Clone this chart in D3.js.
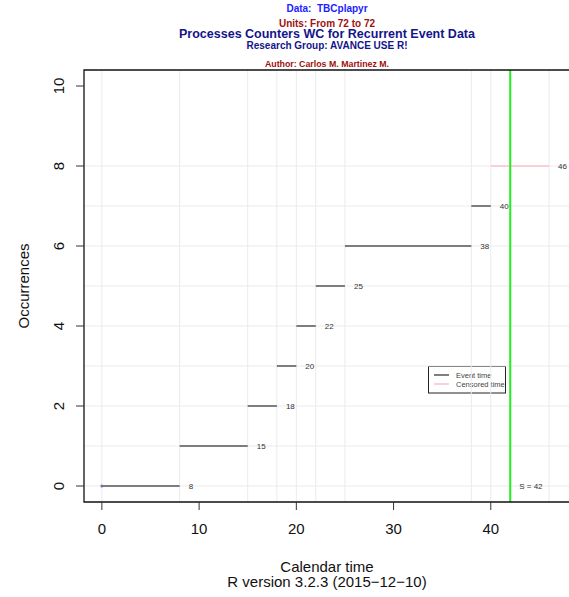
<!DOCTYPE html>
<html>
<head>
<meta charset="utf-8">
<script src="https://cdn.jsdelivr.net/npm/d3@7"></script>
<style>
  body { margin: 0; background: #fff; }
  svg { display: block; font-family: "Liberation Sans", Arial, Helvetica, sans-serif; }
  text { white-space: pre; }
</style>
</head>
<body>
<script>
// recurrent event process, one unit
var times = [0, 8, 15, 18, 20, 22, 25, 38, 40, 46];
var eventStatus = [1, 1, 1, 1, 1, 1, 1, 1, 0];   // 1 = event, 0 = censored
var stopTime = 42;
var xTicks = [0, 10, 20, 30, 40];
var yTicks = [0, 2, 4, 6, 8, 10];
var yGrid = [0, 1, 2, 3, 4, 5, 6, 7, 8];
var legendLabels = ["Event time", "Censored time"];
var titleLines = [
  { text: "Data:  TBCplapyr", y: 11.5, size: 10, color: "#2222ff" },
  { text: "Units: From 72 to 72", y: 27, size: 10, color: "#a01010" },
  { text: "Processes Counters WC for Recurrent Event Data", y: 38.3, size: 12.5, color: "#14148c" },
  { text: "Research Group: AVANCE USE R!", y: 48.5, size: 10, color: "#14148c" },
  { text: "Author: Carlos M. Martinez M.", y: 67, size: 8.8, color: "#a01010" }
];

var W = 569, H = 597;
var svg = d3.select("body").append("svg").attr("width", W).attr("height", H);

var x = d3.scaleLinear().domain([-1.84, 47.84]).range([84, 567]);
var y = d3.scaleLinear().domain([-0.4, 10.4]).range([502, 70]);

// legend (drawn first, grid goes over it like in the original)
var lg = svg.append("g");
lg.append("rect").attr("x", 428.5).attr("y", 366.5).attr("width", 77).attr("height", 26.5)
  .style("fill", "white").style("stroke", "#222").style("stroke-width", 1);
legendLabels.forEach(function(d, i){
  var ly = 375 + i*9;
  lg.append("line").attr("x1", 434).attr("x2", 449).attr("y1", ly).attr("y2", ly)
    .style("stroke", i == 0 ? "#555" : "pink").style("stroke-width", 1.5);
  lg.append("text").attr("x", 456).attr("y", ly).attr("dy", "0.35em")
    .style("font-size", "7.5px").style("fill", "#444").text(d);
});

// grid
var grid = svg.append("g");
times.forEach(function(t){
  grid.append("line").attr("x1", x(t)).attr("x2", x(t)).attr("y1", y.range()[1]).attr("y2", y.range()[0])
    .style("stroke", "#ebebeb").style("stroke-width", 1);
});
yGrid.forEach(function(v){
  grid.append("line").attr("x1", 84).attr("x2", W).attr("y1", y(v)).attr("y2", y(v))
    .style("stroke", "#ebebeb").style("stroke-width", 1);
});

// segments
var segs = d3.range(eventStatus.length).map(function(i){
  return { x0: times[i], x1: times[i+1], k: i, s: eventStatus[i] };
});
svg.append("g").selectAll("line").data(segs).join("line")
  .attr("x1", function(d){ return x(d.x0); }).attr("x2", function(d){ return x(d.x1); })
  .attr("y1", function(d){ return y(d.k); }).attr("y2", function(d){ return y(d.k); })
  .style("stroke", function(d){ return d.s == 1 ? "#555" : "pink"; })
  .style("stroke-width", 1.5);
svg.append("g").selectAll("text").data(segs).join("text")
  .attr("x", function(d){ return x(d.x1) + 9; }).attr("y", function(d){ return y(d.k); })
  .attr("dy", "0.35em").style("font-size", "8px").style("fill", "#333")
  .text(function(d){ return d.x1; });

// start point
svg.append("circle").attr("cx", x(times[0])).attr("cy", y(0)).attr("r", 1.5).style("fill", "#7070b0");

// end of observation
svg.append("line").attr("x1", x(stopTime)).attr("x2", x(stopTime)).attr("y1", 70).attr("y2", 502)
  .style("stroke", "#22ee22").style("stroke-width", 2);
svg.append("text").attr("x", x(stopTime) + 9).attr("y", y(0)).attr("dy", "0.35em")
  .style("font-size", "8px").style("fill", "#333").text("S = " + stopTime);

// box (right side runs past the picture)
svg.append("path").attr("d", "M" + (W+2) + ",70 H84 V502 H" + (W+2))
  .style("fill", "none").style("stroke", "#111").style("stroke-width", 1.3);

// axes
var ax = svg.append("g");
xTicks.forEach(function(t){
  ax.append("line").attr("x1", x(t)).attr("x2", x(t)).attr("y1", 502).attr("y2", 510)
    .style("stroke", "#333").style("stroke-width", 1);
  ax.append("text").attr("x", x(t)).attr("y", 534).attr("text-anchor", "middle")
    .style("font-size", "15px").style("fill", "#111").text(t);
});
yTicks.forEach(function(t){
  ax.append("line").attr("x1", 76).attr("x2", 84).attr("y1", y(t)).attr("y2", y(t))
    .style("stroke", "#333").style("stroke-width", 1);
  ax.append("text").attr("transform", "translate(63.5," + y(t) + ") rotate(-90)")
    .attr("text-anchor", "middle").style("font-size", "15px").style("fill", "#111").text(t);
});

svg.append("text").attr("x", 327).attr("y", 571.5).attr("text-anchor", "middle")
  .style("font-size", "15px").style("fill", "#111").text("Calendar time");
svg.append("text").attr("x", 327).attr("y", 587).attr("text-anchor", "middle")
  .style("font-size", "15px").style("fill", "#111").text("R version 3.2.3 (2015\u221212\u221210)");
svg.append("text").attr("transform", "translate(28.5,286) rotate(-90)").attr("text-anchor", "middle")
  .style("font-size", "15px").style("fill", "#111").text("Occurrences");

// titles
titleLines.forEach(function(d){
  svg.append("text").attr("x", 327).attr("y", d.y).attr("text-anchor", "middle")
    .style("font-size", d.size + "px").style("font-weight", "bold").style("fill", d.color).text(d.text);
});
</script>
</body>
</html>
